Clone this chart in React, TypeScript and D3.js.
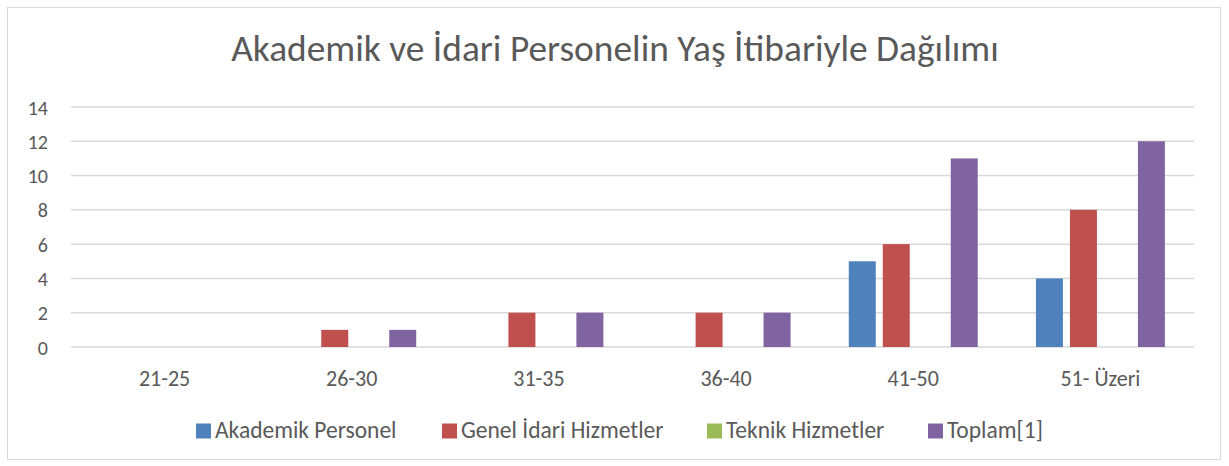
import React from "react";
import * as d3 from "d3";

const categories = ["21-25", "26-30", "31-35", "36-40", "41-50", "51- Üzeri"];
const seriesNames = ["Akademik Personel", "Genel İdari Hizmetler", "Teknik Hizmetler", "Toplam[1]"];
const akademik = [0, 0, 0, 0, 5, 4];
const genelIdari = [0, 1, 2, 2, 6, 8];
const teknik = [0, 0, 0, 0, 0, 0];
const toplam = [0, 1, 2, 2, 11, 12];
const yTicks = [0, 2, 4, 6, 8, 10, 12, 14];
const colors = ["#4F81BD", "#C0504D", "#9BBB59", "#8064A2"];
const title = "Akademik ve İdari Personelin Yaş İtibariyle Dağılımı";

const W = 1229;
const H = 466;
const FONT = "Carlito, Calibri, Lato, 'Open Sans', sans-serif";
const TXT = "#595959";

export default function App() {
  const values = [akademik, genelIdari, teknik, toplam];
  const left = 71, right = 1194, top = 107, bottom = 347;
  const x0 = d3.scaleBand<string>().domain(categories).range([left, right]).paddingInner(0).paddingOuter(0);
  const bw = x0.bandwidth();
  const groupW = bw * 0.689;
  const x1 = d3
    .scaleBand<number>()
    .domain([0, 1, 2, 3])
    .range([(bw - groupW) / 2, (bw + groupW) / 2])
    .paddingInner(0.206)
    .paddingOuter(0);
  const y = d3.scaleLinear().domain([0, 14]).range([bottom, top]);

  const legendX = [196, 442, 707, 928];

  return (
    <svg width={W} height={H} style={{ position: "absolute", left: 0, top: 0, background: "#fff" }} fontFamily={FONT}>
      <rect x={7.5} y={7.5} width={1213} height={452} fill="#fff" stroke="#D9D9D9" strokeWidth={1} />
      <text x={615} y={61} textAnchor="middle" fontSize={37.4} fill={TXT} fontWeight={300}>
        {title}
      </text>
      {yTicks.map((t) => (
        <g key={t}>
          <line x1={left} x2={right} y1={y(t)} y2={y(t)} stroke="#D9D9D9" strokeWidth={1.5} />
          <text x={48} y={y(t) + 7.5} textAnchor="end" fontSize={20} fill={TXT}>
            {t}
          </text>
        </g>
      ))}
      {categories.map((c, i) => (
        <g key={c} transform={`translate(${x0(c)},0)`}>
          {values.map((vals, s) => (
            <rect
              key={s}
              x={x1(s)}
              y={y(vals[i])}
              width={x1.bandwidth()}
              height={bottom - y(vals[i])}
              fill={colors[s]}
            />
          ))}
          <text x={bw / 2} y={386} textAnchor="middle" fontSize={22} fill={TXT}>
            {c}
          </text>
        </g>
      ))}
      {seriesNames.map((n, s) => (
        <g key={n}>
          <rect x={legendX[s]} y={423.5} width={15} height={15} fill={colors[s]} />
          <text x={legendX[s] + 19} y={438} fontSize={23.5} fill={TXT}>
            {n}
          </text>
        </g>
      ))}
    </svg>
  );
}
